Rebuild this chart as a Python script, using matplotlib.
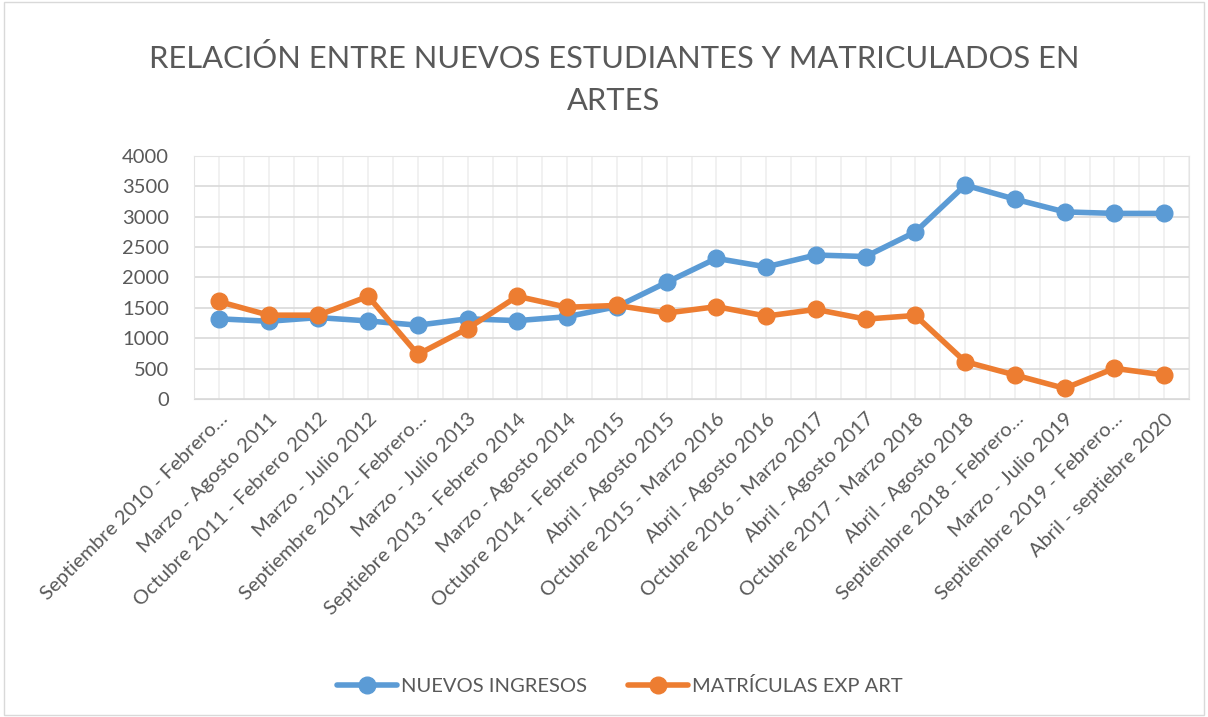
import numpy as np
import matplotlib.pyplot as plt
from matplotlib.ticker import MultipleLocator

## Data
periodos = [
    "Septiembre 2010 - Febrero…", "Marzo - Agosto 2011", "Octubre 2011 - Febrero 2012",
    "Marzo - Julio 2012", "Septiembre 2012 - Febrero…", "Marzo - Julio 2013",
    "Septiebre 2013 - Febrero 2014", "Marzo - Agosto 2014", "Octubre 2014 - Febrero 2015",
    "Abril - Agosto 2015", "Octubre 2015 - Marzo 2016", "Abril - Agosto 2016",
    "Octubre 2016 - Marzo 2017", "Abril - Agosto 2017", "Octubre 2017 - Marzo 2018",
    "Abril - Agosto 2018", "Septiembre 2018 - Febrero…", "Marzo - Julio 2019",
    "Septiembre 2019 - Febrero…", "Abril - septiebre 2020",
]
nuevos_ingresos = [1320, 1280, 1340, 1285, 1215, 1320, 1290, 1355, 1520, 1920,
                   2315, 2175, 2370, 2345, 2750, 3520, 3290, 3080, 3055, 3055]
matriculas_exp_art = [1605, 1380, 1380, 1690, 735, 1160, 1690, 1510, 1540, 1415,
                      1520, 1365, 1475, 1315, 1375, 615, 395, 175, 505, 395]

plt.rcParams['font.family'] = ['Lato', 'DejaVu Sans']
txt = '#595959'

fig = plt.figure(figsize=(12.08, 7.17), dpi=100)
ax = fig.add_axes([194/1208, 1 - 399/717, 995/1208, 243/717])

x = np.arange(len(periodos))
ax.plot(x, nuevos_ingresos, color='#5b9bd5', lw=4, marker='o', ms=12,
        label='NUEVOS INGRESOS', zorder=3, solid_capstyle='round')
ax.plot(x, matriculas_exp_art, color='#ed7d31', lw=4, marker='o', ms=12,
        label='MATRÍCULAS EXP ART', zorder=4, solid_capstyle='round')

ax.set_xlim(-0.5, len(periodos) - 0.5)
ax.set_ylim(0, 4000)
ax.yaxis.set_major_locator(MultipleLocator(500))
ax.set_xticks(x)
ax.set_xticks(np.arange(-0.5, len(periodos), 1.0), minor=True)
ax.set_xticklabels(periodos, rotation=45, ha='right', rotation_mode='anchor',
                   fontsize=14.5, color=txt)
ax.tick_params(axis='y', labelsize=14.5, colors=txt, length=0, pad=18)
ax.tick_params(axis='x', which='both', length=0, pad=8)

ax.grid(axis='y', color='#d9d9d9', lw=1.2)
ax.grid(axis='x', which='both', color='#efefef', lw=1.2)
ax.set_axisbelow(True)
for s in ax.spines.values():
    s.set_color('#e4e4e4')
ax.spines['bottom'].set_color('#d9d9d9')

fig.text(614/1208, 1 - 58/717, 'RELACIÓN ENTRE NUEVOS ESTUDIANTES Y MATRICULADOS EN',
         ha='center', va='center', fontsize=22.2, color=txt)
fig.text(614/1208, 1 - 101/717, 'ARTES', ha='center', va='center', fontsize=22.2, color=txt)

fig.legend(loc='center', bbox_to_anchor=(0.513, 1 - 686/717), ncol=2, frameon=False,
           fontsize=14.5, labelcolor=txt, handlelength=3.0, handletextpad=0.2,
           columnspacing=2.0)

# light border around the chart area
fig.patches.append(plt.Rectangle((0.003, 0.003), 0.994, 0.994, transform=fig.transFigure,
                                 fill=False, ec='#d9d9d9', lw=1))

fig.savefig('out.png', dpi=100)
